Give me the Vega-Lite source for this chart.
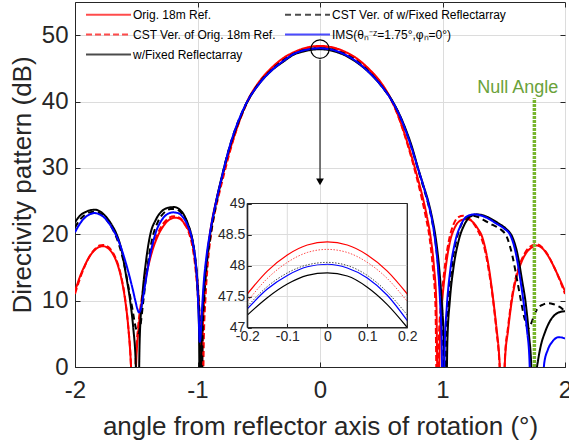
{
"$schema":"https://vega.github.io/schema/vega-lite/v6.json",
"width":490,"height":365,"autosize":"none",
"padding":{"left":75,"top":2,"right":4,"bottom":77},
"background":"white",
"config":{"font":"Liberation Sans","view":{"stroke":"#262626","strokeWidth":1}},
"datasets":{"curves":[
{"s":"R","a":-2.0,"d":11.4},{"s":"R","a":-1.96,"d":13.6},{"s":"R","a":-1.92,"d":15.3},{"s":"R","a":-1.88,"d":16.7},{"s":"R","a":-1.84,"d":17.6},{"s":"R","a":-1.8,"d":18.1},{"s":"R","a":-1.77,"d":18.2},{"s":"R","a":-1.73,"d":17.9},{"s":"R","a":-1.69,"d":17.0},{"s":"R","a":-1.65,"d":15.3},{"s":"R","a":-1.62,"d":13.2},{"s":"R","a":-1.59,"d":10.0},{"s":"R","a":-1.565,"d":6.0},{"s":"R","a":-1.545,"d":1.0},{"s":"R","a":-1.52,"d":-10},{"s":"R","a":-1.5,"d":1.0},{"s":"R","a":-1.48,"d":6.0},{"s":"R","a":-1.453,"d":10.0},{"s":"R","a":-1.42,"d":13.6},{"s":"R","a":-1.38,"d":16.8},{"s":"R","a":-1.33,"d":19.5},{"s":"R","a":-1.28,"d":21.2},{"s":"R","a":-1.23,"d":22.2},{"s":"R","a":-1.18,"d":22.5},{"s":"R","a":-1.14,"d":22.3},{"s":"R","a":-1.1,"d":21.4},{"s":"R","a":-1.06,"d":20.0},{"s":"R","a":-1.03,"d":17.5},{"s":"R","a":-1.01,"d":14.5},{"s":"R","a":-0.99,"d":10.0},{"s":"R","a":-0.978,"d":4.0},{"s":"R","a":-0.97,"d":-10},{"s":"R","a":-0.958,"d":4.5},{"s":"R","a":-0.945,"d":10.3},{"s":"R","a":-0.925,"d":15.8},{"s":"R","a":-0.9,"d":19.9},{"s":"R","a":-0.875,"d":22.7},{"s":"R","a":-0.845,"d":25.2},{"s":"R","a":-0.8,"d":28.5},{"s":"R","a":-0.75,"d":31.8},{"s":"R","a":-0.7,"d":34.8},{"s":"R","a":-0.65,"d":37.5},{"s":"R","a":-0.6,"d":39.8},{"s":"R","a":-0.5,"d":42.9},{"s":"R","a":-0.4,"d":45.0},{"s":"R","a":-0.3,"d":46.55},{"s":"R","a":-0.2,"d":47.54},{"s":"R","a":-0.15,"d":47.91},{"s":"R","a":-0.1,"d":48.17},{"s":"R","a":-0.05,"d":48.33},{"s":"R","a":0.0,"d":48.38},{"s":"R","a":0.05,"d":48.33},{"s":"R","a":0.1,"d":48.17},{"s":"R","a":0.15,"d":47.91},{"s":"R","a":0.2,"d":47.54},{"s":"R","a":0.3,"d":46.5},{"s":"R","a":0.4,"d":44.9},{"s":"R","a":0.5,"d":42.8},{"s":"R","a":0.6,"d":39.6},{"s":"R","a":0.65,"d":37.3},{"s":"R","a":0.7,"d":34.6},{"s":"R","a":0.75,"d":31.6},{"s":"R","a":0.8,"d":28.3},{"s":"R","a":0.842,"d":25.3},{"s":"R","a":0.875,"d":22.5},{"s":"R","a":0.904,"d":19.4},{"s":"R","a":0.93,"d":15.2},{"s":"R","a":0.95,"d":9.5},{"s":"R","a":0.965,"d":-10},{"s":"R","a":0.978,"d":4.0},{"s":"R","a":0.99,"d":8.5},{"s":"R","a":1.005,"d":11.5},{"s":"R","a":1.03,"d":15.5},{"s":"R","a":1.06,"d":18.8},{"s":"R","a":1.1,"d":21.0},{"s":"R","a":1.15,"d":22.1},{"s":"R","a":1.2,"d":22.3},{"s":"R","a":1.25,"d":21.8},{"s":"R","a":1.29,"d":20.8},{"s":"R","a":1.32,"d":19.8},{"s":"R","a":1.35,"d":17.8},{"s":"R","a":1.38,"d":14.8},{"s":"R","a":1.415,"d":10.0},{"s":"R","a":1.44,"d":6.0},{"s":"R","a":1.465,"d":1.0},{"s":"R","a":1.49,"d":-10},{"s":"R","a":1.51,"d":1.0},{"s":"R","a":1.535,"d":5.5},{"s":"R","a":1.566,"d":10.0},{"s":"R","a":1.6,"d":13.3},{"s":"R","a":1.64,"d":15.6},{"s":"R","a":1.68,"d":17.1},{"s":"R","a":1.72,"d":17.9},{"s":"R","a":1.77,"d":18.3},{"s":"R","a":1.82,"d":17.8},{"s":"R","a":1.87,"d":16.5},{"s":"R","a":1.92,"d":14.7},{"s":"R","a":1.96,"d":13.1},{"s":"R","a":2.0,"d":11.4},

{"s":"RC","a":-2.0,"d":11.0},{"s":"RC","a":-1.96,"d":13.3},{"s":"RC","a":-1.92,"d":15.2},{"s":"RC","a":-1.88,"d":16.7},{"s":"RC","a":-1.84,"d":17.7},{"s":"RC","a":-1.8,"d":18.3},{"s":"RC","a":-1.77,"d":18.4},{"s":"RC","a":-1.73,"d":18.1},{"s":"RC","a":-1.69,"d":17.2},{"s":"RC","a":-1.65,"d":15.5},{"s":"RC","a":-1.62,"d":13.4},{"s":"RC","a":-1.59,"d":10.2},{"s":"RC","a":-1.565,"d":6.0},{"s":"RC","a":-1.545,"d":1.0},{"s":"RC","a":-1.525,"d":-10},{"s":"RC","a":-1.505,"d":1.0},{"s":"RC","a":-1.485,"d":6.0},{"s":"RC","a":-1.458,"d":10.0},{"s":"RC","a":-1.42,"d":14.0},{"s":"RC","a":-1.38,"d":17.2},{"s":"RC","a":-1.33,"d":19.9},{"s":"RC","a":-1.28,"d":21.6},{"s":"RC","a":-1.23,"d":22.5},{"s":"RC","a":-1.19,"d":22.7},{"s":"RC","a":-1.15,"d":22.5},{"s":"RC","a":-1.11,"d":21.7},{"s":"RC","a":-1.07,"d":20.2},{"s":"RC","a":-1.04,"d":18.0},{"s":"RC","a":-1.015,"d":14.5},{"s":"RC","a":-0.995,"d":10.0},{"s":"RC","a":-0.975,"d":3.0},{"s":"RC","a":-0.96,"d":-10},{"s":"RC","a":-0.948,"d":4.5},{"s":"RC","a":-0.935,"d":10.3},{"s":"RC","a":-0.915,"d":15.8},{"s":"RC","a":-0.89,"d":19.9},{"s":"RC","a":-0.865,"d":22.7},{"s":"RC","a":-0.835,"d":25.2},{"s":"RC","a":-0.79,"d":28.6},{"s":"RC","a":-0.745,"d":31.8},{"s":"RC","a":-0.7,"d":34.7},{"s":"RC","a":-0.65,"d":37.4},{"s":"RC","a":-0.6,"d":39.6},{"s":"RC","a":-0.5,"d":42.75},{"s":"RC","a":-0.4,"d":44.9},{"s":"RC","a":-0.3,"d":46.42},{"s":"RC","a":-0.2,"d":47.42},{"s":"RC","a":-0.15,"d":47.79},{"s":"RC","a":-0.1,"d":48.05},{"s":"RC","a":-0.05,"d":48.21},{"s":"RC","a":0.0,"d":48.26},{"s":"RC","a":0.05,"d":48.21},{"s":"RC","a":0.1,"d":48.05},{"s":"RC","a":0.15,"d":47.79},{"s":"RC","a":0.2,"d":47.42},{"s":"RC","a":0.3,"d":46.4},{"s":"RC","a":0.4,"d":44.8},{"s":"RC","a":0.5,"d":42.7},{"s":"RC","a":0.6,"d":39.5},{"s":"RC","a":0.65,"d":37.2},{"s":"RC","a":0.7,"d":34.4},{"s":"RC","a":0.745,"d":31.6},{"s":"RC","a":0.79,"d":28.5},{"s":"RC","a":0.832,"d":25.3},{"s":"RC","a":0.865,"d":22.5},{"s":"RC","a":0.895,"d":19.4},{"s":"RC","a":0.92,"d":15.2},{"s":"RC","a":0.942,"d":9.5},{"s":"RC","a":0.958,"d":-10},{"s":"RC","a":0.97,"d":4.0},{"s":"RC","a":0.985,"d":9.0},{"s":"RC","a":1.0,"d":12.0},{"s":"RC","a":1.025,"d":16.0},{"s":"RC","a":1.055,"d":19.3},{"s":"RC","a":1.09,"d":21.5},{"s":"RC","a":1.13,"d":22.6},{"s":"RC","a":1.17,"d":22.8},{"s":"RC","a":1.21,"d":22.5},{"s":"RC","a":1.25,"d":21.7},{"s":"RC","a":1.29,"d":20.5},{"s":"RC","a":1.32,"d":19.3},{"s":"RC","a":1.35,"d":17.3},{"s":"RC","a":1.38,"d":14.3},{"s":"RC","a":1.41,"d":10.5},{"s":"RC","a":1.44,"d":5.5},{"s":"RC","a":1.465,"d":0.5},{"s":"RC","a":1.488,"d":-10},{"s":"RC","a":1.51,"d":1.5},{"s":"RC","a":1.535,"d":6.0},{"s":"RC","a":1.565,"d":10.3},{"s":"RC","a":1.6,"d":13.6},{"s":"RC","a":1.64,"d":15.9},{"s":"RC","a":1.68,"d":17.4},{"s":"RC","a":1.72,"d":18.2},{"s":"RC","a":1.765,"d":18.5},{"s":"RC","a":1.81,"d":18.1},{"s":"RC","a":1.86,"d":16.9},{"s":"RC","a":1.91,"d":15.1},{"s":"RC","a":1.955,"d":13.2},{"s":"RC","a":2.0,"d":11.0},

{"s":"B","a":-2.0,"d":21.8},{"s":"B","a":-1.96,"d":22.8},{"s":"B","a":-1.92,"d":23.3},{"s":"B","a":-1.88,"d":23.6},{"s":"B","a":-1.84,"d":23.7},{"s":"B","a":-1.8,"d":23.5},{"s":"B","a":-1.76,"d":22.9},{"s":"B","a":-1.72,"d":22.0},{"s":"B","a":-1.69,"d":21.1},{"s":"B","a":-1.66,"d":20.0},{"s":"B","a":-1.62,"d":17.6},{"s":"B","a":-1.585,"d":14.0},{"s":"B","a":-1.55,"d":10.0},{"s":"B","a":-1.525,"d":6.0},{"s":"B","a":-1.505,"d":1.0},{"s":"B","a":-1.487,"d":-10},{"s":"B","a":-1.472,"d":4.0},{"s":"B","a":-1.453,"d":10.0},{"s":"B","a":-1.42,"d":16.0},{"s":"B","a":-1.385,"d":20.0},{"s":"B","a":-1.34,"d":22.2},{"s":"B","a":-1.29,"d":23.5},{"s":"B","a":-1.24,"d":24.0},{"s":"B","a":-1.19,"d":24.1},{"s":"B","a":-1.15,"d":23.8},{"s":"B","a":-1.11,"d":22.9},{"s":"B","a":-1.075,"d":21.4},{"s":"B","a":-1.045,"d":19.5},{"s":"B","a":-1.02,"d":16.5},{"s":"B","a":-1.0,"d":12.0},{"s":"B","a":-0.988,"d":6.0},{"s":"B","a":-0.978,"d":-10},{"s":"B","a":-0.966,"d":5.0},{"s":"B","a":-0.952,"d":10.5},{"s":"B","a":-0.93,"d":15.3},{"s":"B","a":-0.905,"d":19.0},{"s":"B","a":-0.875,"d":22.4},{"s":"B","a":-0.845,"d":25.2},{"s":"B","a":-0.8,"d":28.8},{"s":"B","a":-0.75,"d":32.3},{"s":"B","a":-0.7,"d":35.2},{"s":"B","a":-0.65,"d":37.6},{"s":"B","a":-0.6,"d":39.7},{"s":"B","a":-0.5,"d":42.6},{"s":"B","a":-0.4,"d":44.6},{"s":"B","a":-0.3,"d":46.0},{"s":"B","a":-0.2,"d":47.2},{"s":"B","a":-0.15,"d":47.48},{"s":"B","a":-0.1,"d":47.7},{"s":"B","a":-0.05,"d":47.84},{"s":"B","a":0.0,"d":47.88},{"s":"B","a":0.05,"d":47.83},{"s":"B","a":0.1,"d":47.65},{"s":"B","a":0.15,"d":47.37},{"s":"B","a":0.2,"d":47.0},{"s":"B","a":0.3,"d":45.9},{"s":"B","a":0.4,"d":44.4},{"s":"B","a":0.5,"d":42.4},{"s":"B","a":0.6,"d":39.8},{"s":"B","a":0.65,"d":38.0},{"s":"B","a":0.7,"d":35.8},{"s":"B","a":0.75,"d":33.2},{"s":"B","a":0.8,"d":30.0},{"s":"B","a":0.845,"d":27.3},{"s":"B","a":0.883,"d":25.0},{"s":"B","a":0.915,"d":22.5},{"s":"B","a":0.948,"d":19.0},{"s":"B","a":0.975,"d":14.5},{"s":"B","a":0.995,"d":9.5},{"s":"B","a":1.012,"d":3.5},{"s":"B","a":1.027,"d":-10},{"s":"B","a":1.04,"d":4.0},{"s":"B","a":1.06,"d":10.0},{"s":"B","a":1.09,"d":15.0},{"s":"B","a":1.13,"d":18.9},{"s":"B","a":1.18,"d":21.5},{"s":"B","a":1.23,"d":22.7},{"s":"B","a":1.28,"d":23.0},{"s":"B","a":1.34,"d":22.8},{"s":"B","a":1.4,"d":22.3},{"s":"B","a":1.46,"d":21.6},{"s":"B","a":1.52,"d":20.8},{"s":"B","a":1.57,"d":19.6},{"s":"B","a":1.61,"d":17.2},{"s":"B","a":1.65,"d":13.0},{"s":"B","a":1.68,"d":9.5},{"s":"B","a":1.705,"d":5.0},{"s":"B","a":1.725,"d":0.0},{"s":"B","a":1.74,"d":-10},{"s":"B","a":1.765,"d":-1.0},{"s":"B","a":1.78,"d":1.0},{"s":"B","a":1.8,"d":3.0},{"s":"B","a":1.84,"d":5.4},{"s":"B","a":1.88,"d":7.0},{"s":"B","a":1.92,"d":7.9},{"s":"B","a":1.96,"d":8.3},{"s":"B","a":2.0,"d":8.4},

{"s":"BC","a":-2.0,"d":21.0},{"s":"BC","a":-1.96,"d":22.2},{"s":"BC","a":-1.92,"d":22.9},{"s":"BC","a":-1.88,"d":23.3},{"s":"BC","a":-1.84,"d":23.4},{"s":"BC","a":-1.8,"d":23.2},{"s":"BC","a":-1.76,"d":22.6},{"s":"BC","a":-1.72,"d":21.6},{"s":"BC","a":-1.68,"d":20.3},{"s":"BC","a":-1.64,"d":18.4},{"s":"BC","a":-1.6,"d":15.6},{"s":"BC","a":-1.565,"d":12.2},{"s":"BC","a":-1.53,"d":8.6},{"s":"BC","a":-1.505,"d":6.0},{"s":"BC","a":-1.485,"d":5.1},{"s":"BC","a":-1.468,"d":6.0},{"s":"BC","a":-1.445,"d":9.5},{"s":"BC","a":-1.41,"d":15.0},{"s":"BC","a":-1.37,"d":19.3},{"s":"BC","a":-1.32,"d":22.0},{"s":"BC","a":-1.27,"d":23.3},{"s":"BC","a":-1.22,"d":23.8},{"s":"BC","a":-1.18,"d":23.8},{"s":"BC","a":-1.14,"d":23.4},{"s":"BC","a":-1.1,"d":22.4},{"s":"BC","a":-1.065,"d":20.8},{"s":"BC","a":-1.035,"d":18.5},{"s":"BC","a":-1.01,"d":15.0},{"s":"BC","a":-0.99,"d":10.0},{"s":"BC","a":-0.978,"d":5.0},{"s":"BC","a":-0.968,"d":-10},{"s":"BC","a":-0.958,"d":5.0},{"s":"BC","a":-0.945,"d":10.5},{"s":"BC","a":-0.925,"d":15.3},{"s":"BC","a":-0.9,"d":19.0},{"s":"BC","a":-0.87,"d":22.4},{"s":"BC","a":-0.84,"d":25.2},{"s":"BC","a":-0.8,"d":28.6},{"s":"BC","a":-0.75,"d":32.4},{"s":"BC","a":-0.7,"d":35.4},{"s":"BC","a":-0.65,"d":37.8},{"s":"BC","a":-0.6,"d":39.8},{"s":"BC","a":-0.5,"d":42.7},{"s":"BC","a":-0.4,"d":44.7},{"s":"BC","a":-0.3,"d":46.2},{"s":"BC","a":-0.2,"d":47.34},{"s":"BC","a":-0.15,"d":47.66},{"s":"BC","a":-0.1,"d":47.88},{"s":"BC","a":-0.05,"d":48.01},{"s":"BC","a":0.0,"d":48.05},{"s":"BC","a":0.05,"d":48.0},{"s":"BC","a":0.1,"d":47.84},{"s":"BC","a":0.15,"d":47.57},{"s":"BC","a":0.2,"d":47.2},{"s":"BC","a":0.3,"d":46.1},{"s":"BC","a":0.4,"d":44.5},{"s":"BC","a":0.5,"d":42.4},{"s":"BC","a":0.6,"d":39.7},{"s":"BC","a":0.65,"d":37.9},{"s":"BC","a":0.7,"d":35.6},{"s":"BC","a":0.75,"d":32.9},{"s":"BC","a":0.8,"d":29.8},{"s":"BC","a":0.845,"d":27.0},{"s":"BC","a":0.883,"d":24.6},{"s":"BC","a":0.915,"d":22.0},{"s":"BC","a":0.945,"d":18.5},{"s":"BC","a":0.97,"d":14.0},{"s":"BC","a":0.99,"d":8.5},{"s":"BC","a":1.005,"d":2.5},{"s":"BC","a":1.015,"d":-10},{"s":"BC","a":1.028,"d":3.5},{"s":"BC","a":1.045,"d":9.5},{"s":"BC","a":1.075,"d":15.0},{"s":"BC","a":1.11,"d":18.8},{"s":"BC","a":1.15,"d":21.3},{"s":"BC","a":1.2,"d":22.6},{"s":"BC","a":1.24,"d":22.8},{"s":"BC","a":1.29,"d":22.6},{"s":"BC","a":1.35,"d":22.0},{"s":"BC","a":1.41,"d":21.4},{"s":"BC","a":1.47,"d":20.8},{"s":"BC","a":1.525,"d":19.6},{"s":"BC","a":1.57,"d":16.8},{"s":"BC","a":1.61,"d":13.0},{"s":"BC","a":1.64,"d":10.0},{"s":"BC","a":1.67,"d":7.3},{"s":"BC","a":1.7,"d":5.8},{"s":"BC","a":1.725,"d":6.6},{"s":"BC","a":1.75,"d":7.9},{"s":"BC","a":1.78,"d":8.9},{"s":"BC","a":1.82,"d":9.4},{"s":"BC","a":1.86,"d":9.6},{"s":"BC","a":1.9,"d":9.5},{"s":"BC","a":1.94,"d":9.2},{"s":"BC","a":1.97,"d":8.9},{"s":"BC","a":2.0,"d":8.3},

{"s":"I","a":-2.0,"d":20.3},{"s":"I","a":-1.96,"d":21.6},{"s":"I","a":-1.92,"d":22.5},{"s":"I","a":-1.88,"d":23.0},{"s":"I","a":-1.84,"d":23.2},{"s":"I","a":-1.8,"d":23.0},{"s":"I","a":-1.76,"d":22.5},{"s":"I","a":-1.72,"d":21.6},{"s":"I","a":-1.68,"d":20.4},{"s":"I","a":-1.64,"d":18.8},{"s":"I","a":-1.6,"d":16.6},{"s":"I","a":-1.56,"d":14.0},{"s":"I","a":-1.53,"d":11.8},{"s":"I","a":-1.505,"d":9.8},{"s":"I","a":-1.49,"d":8.7},{"s":"I","a":-1.478,"d":8.2},{"s":"I","a":-1.465,"d":8.6},{"s":"I","a":-1.45,"d":9.9},{"s":"I","a":-1.42,"d":13.3},{"s":"I","a":-1.385,"d":17.0},{"s":"I","a":-1.34,"d":20.3},{"s":"I","a":-1.29,"d":22.2},{"s":"I","a":-1.24,"d":23.1},{"s":"I","a":-1.2,"d":23.3},{"s":"I","a":-1.16,"d":23.2},{"s":"I","a":-1.12,"d":22.6},{"s":"I","a":-1.08,"d":21.3},{"s":"I","a":-1.045,"d":19.3},{"s":"I","a":-1.02,"d":16.5},{"s":"I","a":-1.0,"d":12.0},{"s":"I","a":-0.99,"d":7.5},{"s":"I","a":-0.982,"d":3.8},{"s":"I","a":-0.975,"d":4.5},{"s":"I","a":-0.965,"d":8.0},{"s":"I","a":-0.95,"d":12.5},{"s":"I","a":-0.93,"d":16.2},{"s":"I","a":-0.9,"d":20.0},{"s":"I","a":-0.87,"d":23.0},{"s":"I","a":-0.84,"d":25.6},{"s":"I","a":-0.8,"d":28.7},{"s":"I","a":-0.75,"d":32.4},{"s":"I","a":-0.7,"d":35.4},{"s":"I","a":-0.65,"d":37.8},{"s":"I","a":-0.6,"d":39.8},{"s":"I","a":-0.5,"d":42.6},{"s":"I","a":-0.4,"d":44.6},{"s":"I","a":-0.3,"d":46.1},{"s":"I","a":-0.2,"d":47.3},{"s":"I","a":-0.15,"d":47.62},{"s":"I","a":-0.1,"d":47.84},{"s":"I","a":-0.05,"d":47.98},{"s":"I","a":0.0,"d":48.02},{"s":"I","a":0.05,"d":47.96},{"s":"I","a":0.1,"d":47.8},{"s":"I","a":0.15,"d":47.52},{"s":"I","a":0.2,"d":47.11},{"s":"I","a":0.3,"d":46.0},{"s":"I","a":0.4,"d":44.4},{"s":"I","a":0.5,"d":42.4},{"s":"I","a":0.6,"d":39.7},{"s":"I","a":0.65,"d":37.9},{"s":"I","a":0.7,"d":35.6},{"s":"I","a":0.75,"d":32.9},{"s":"I","a":0.8,"d":29.9},{"s":"I","a":0.85,"d":26.9},{"s":"I","a":0.89,"d":24.2},{"s":"I","a":0.92,"d":21.6},{"s":"I","a":0.945,"d":18.3},{"s":"I","a":0.965,"d":14.5},{"s":"I","a":0.98,"d":10.0},{"s":"I","a":0.993,"d":4.0},{"s":"I","a":1.005,"d":-10},{"s":"I","a":1.018,"d":3.0},{"s":"I","a":1.035,"d":9.0},{"s":"I","a":1.065,"d":14.8},{"s":"I","a":1.1,"d":18.6},{"s":"I","a":1.15,"d":21.4},{"s":"I","a":1.2,"d":22.7},{"s":"I","a":1.26,"d":23.0},{"s":"I","a":1.32,"d":22.8},{"s":"I","a":1.38,"d":22.3},{"s":"I","a":1.44,"d":21.6},{"s":"I","a":1.5,"d":20.9},{"s":"I","a":1.555,"d":19.8},{"s":"I","a":1.6,"d":17.0},{"s":"I","a":1.63,"d":13.8},{"s":"I","a":1.66,"d":10.0},{"s":"I","a":1.69,"d":5.5},{"s":"I","a":1.71,"d":1.0},{"s":"I","a":1.725,"d":-10},{"s":"I","a":1.8,"d":-10},{"s":"I","a":1.83,"d":0.5},{"s":"I","a":1.86,"d":2.6},{"s":"I","a":1.9,"d":3.9},{"s":"I","a":1.95,"d":4.5},{"s":"I","a":2.0,"d":4.3}
],
"insetGridX":[{"g":-0.1},{"g":0},{"g":0.1}],
"insetGridY":[{"g":47.5},{"g":48},{"g":48.5}]},
"layer":[
{"resolve":{"axis":{"x":"independent","y":"independent"}},
 "layer":[
 {"data":{"name":"curves"},
  "mark":{"type":"line","clip":true,"strokeWidth":2,"interpolate":"monotone"},
  "encoding":{
   "x":{"field":"a","type":"quantitative","scale":{"domain":[-2,2],"nice":false},
        "axis":{"orient":"bottom","title":"angle from reflector axis of rotation (°)","values":[-2,-1,0,1,2],"labelExpr":"toString(datum.value)","labelFontSize":24,"titleFontSize":26,"titleFontWeight":"normal","labelColor":"#262626","titleColor":"#262626","grid":true,"gridColor":"#dcdcdc","domainColor":"#262626","tickColor":"#262626","tickSize":-5,"labelPadding":16,"labelFlush":false,"titlePadding":11}},
   "y":{"field":"d","type":"quantitative","scale":{"domain":[0,55],"nice":false},
        "axis":{"orient":"left","title":"Directivity pattern (dB)","values":[0,10,20,30,40,50],"labelFontSize":24,"titleFontSize":26,"titleFontWeight":"normal","labelColor":"#262626","titleColor":"#262626","grid":true,"gridColor":"#dcdcdc","domainColor":"#262626","tickColor":"#262626","tickSize":-5,"labelPadding":12,"titlePadding":6}},
   "color":{"field":"s","type":"nominal","scale":{"domain":["R","RC","B","BC","I"],"range":["#ff0000","#ff0000","#000000","#000000","#0000ff"]},
     "legend":{"title":null,"orient":"none","legendX":26,"legendY":5,"columns":2,"columnPadding":5,"rowPadding":6,"symbolType":"M-3.5,0L3.5,0","symbolSize":165,"symbolStrokeWidth":2,"labelFontSize":12,"labelColor":"#000000","labelOffset":17,"labelLimit":400,"padding":0,
       "labelExpr":"datum.label=='R'?'Orig. 18m Ref.':datum.label=='BC'?'CST Ver. of w/Fixed Reflectarray':datum.label=='RC'?'CST Ver. of Orig. 18m Ref.':datum.label=='I'?'IMS(θₙ⁻ᶻ=1.75°,φₙ=0°)':'w/Fixed Reflectarray'"}},
   "strokeDash":{"field":"s","type":"nominal","scale":{"domain":["R","RC","B","BC","I"],"range":[[1,0],[6,3],[1,0],[6,4],[1,0]]},
     "legend":{"title":null,"orient":"none","legendX":26,"legendY":5,"columns":2,"columnPadding":5,"rowPadding":6,"symbolType":"M-3.5,0L3.5,0","symbolSize":165,"symbolStrokeWidth":2,"labelFontSize":12,"labelColor":"#000000","labelOffset":17,"labelLimit":400,"padding":0,
       "labelExpr":"datum.label=='R'?'Orig. 18m Ref.':datum.label=='BC'?'CST Ver. of w/Fixed Reflectarray':datum.label=='RC'?'CST Ver. of Orig. 18m Ref.':datum.label=='I'?'IMS(θₙ⁻ᶻ=1.75°,φₙ=0°)':'w/Fixed Reflectarray'"}}
  }},
 {"data":{"values":[{}]},"mark":{"type":"point","opacity":0,"size":1},
  "encoding":{
   "x":{"datum":0,"type":"quantitative","axis":{"orient":"top","title":null,"values":[-2,-1,0,1,2],"labels":false,"grid":false,"domain":false,"tickColor":"#262626","tickSize":-5}},
   "y":{"datum":0,"type":"quantitative","axis":{"orient":"right","title":null,"values":[0,10,20,30,40,50],"labels":false,"grid":false,"domain":false,"tickColor":"#262626","tickSize":-5}}}},
 {"data":{"values":[{}]},"mark":{"type":"rule","color":"#78b52c","strokeWidth":3.5,"strokeDash":[3,1]},
  "encoding":{"x":{"datum":1.75,"axis":null},"y":{"datum":0,"axis":null},"y2":{"datum":40.5}}},
 {"data":{"values":[{}]},"mark":{"type":"text","fontSize":18,"color":"#6aa23a","align":"center","baseline":"middle"},
  "encoding":{"x":{"datum":1.615,"axis":null},"y":{"datum":42.1,"axis":null},"text":{"value":"Null Angle"}}},
 {"data":{"values":[{}]},"mark":{"type":"rule","color":"#262626","strokeWidth":1.2},
  "encoding":{"x":{"datum":0,"axis":null},"y":{"datum":46.3,"axis":null},"y2":{"datum":28.3}}},
 {"data":{"values":[{}]},"mark":{"type":"point","shape":"triangle-down","filled":true,"color":"#000000","size":60,"opacity":1},
  "encoding":{"x":{"datum":0,"axis":null},"y":{"datum":27.9,"axis":null}}},
 {"data":{"values":[{}]},"mark":{"type":"point","shape":"circle","filled":false,"color":"#000000","size":340,"strokeWidth":1.2,"opacity":1},
  "encoding":{"x":{"datum":0,"axis":null},"y":{"datum":47.9,"axis":null}}}
]},
{"layer":[
 {"data":{"values":[{}]},"mark":{"type":"rect","fill":"white","stroke":"#262626","strokeWidth":1},
  "encoding":{
   "x":{"datum":-0.2,"type":"quantitative","scale":{"domain":[-0.2,0.2],"range":[172.3,332.3],"nice":false},
        "axis":{"orient":"bottom","offset":-39.5,"title":null,"values":[-0.2,-0.1,0,0.1,0.2],"labelExpr":"toString(datum.value)","labelFontSize":14,"labelColor":"#262626","grid":false,"domainColor":"#262626","tickColor":"#262626","tickSize":-4,"labelPadding":6,"labelFlush":false,"zindex":1}},
   "x2":{"datum":0.2},
   "y":{"datum":47,"type":"quantitative","scale":{"domain":[47,49],"range":[325.5,201.5],"nice":false,"zero":false},
        "axis":{"orient":"left","offset":-172.3,"title":null,"values":[47,47.5,48,48.5,49],"labelExpr":"toString(datum.value)","labelFontSize":14,"labelColor":"#262626","grid":false,"domainColor":"#262626","tickColor":"#262626","tickSize":-4,"labelPadding":6.5,"zindex":1}},
   "y2":{"datum":49}}},
 {"data":{"name":"insetGridX"},"mark":{"type":"rule","color":"#dcdcdc","strokeWidth":1},
  "encoding":{"x":{"field":"g","type":"quantitative"},"y":{"datum":47},"y2":{"datum":49}}},
 {"data":{"name":"insetGridY"},"mark":{"type":"rule","color":"#dcdcdc","strokeWidth":1},
  "encoding":{"y":{"field":"g","type":"quantitative"},"x":{"datum":-0.2},"x2":{"datum":0.2}}},
 {"data":{"name":"curves"},"transform":[{"filter":"datum.a >= -0.2 && datum.a <= 0.2 && (datum.s == 'R' || datum.s == 'B' || datum.s == 'I')"}],
  "mark":{"type":"line","strokeWidth":1.2,"interpolate":"monotone"},
  "encoding":{"x":{"field":"a","type":"quantitative"},"y":{"field":"d","type":"quantitative"},
   "color":{"field":"s","type":"nominal","scale":{"domain":["R","RC","B","BC","I"],"range":["#ff0000","#ff0000","#000000","#000000","#0000ff"]}}}},
 {"data":{"name":"curves"},"transform":[{"filter":"datum.a >= -0.2 && datum.a <= 0.2 && (datum.s == 'RC' || datum.s == 'BC')"}],
  "mark":{"type":"line","strokeWidth":1,"strokeDash":[1.5,1.5],"opacity":0.7,"interpolate":"monotone"},
  "encoding":{"x":{"field":"a","type":"quantitative"},"y":{"field":"d","type":"quantitative"},
   "color":{"field":"s","type":"nominal","scale":{"domain":["R","RC","B","BC","I"],"range":["#ff0000","#ff0000","#000000","#000000","#0000ff"]}}}},
 {"data":{"values":[{}]},"mark":{"type":"rect","fill":null,"fillOpacity":0,"stroke":"#262626","strokeWidth":1},
  "encoding":{"x":{"datum":-0.2},"x2":{"datum":0.2},"y":{"datum":47},"y2":{"datum":49}}}
]}
],
"resolve":{"scale":{"x":"independent","y":"independent"},"axis":{"x":"independent","y":"independent"}}
}
